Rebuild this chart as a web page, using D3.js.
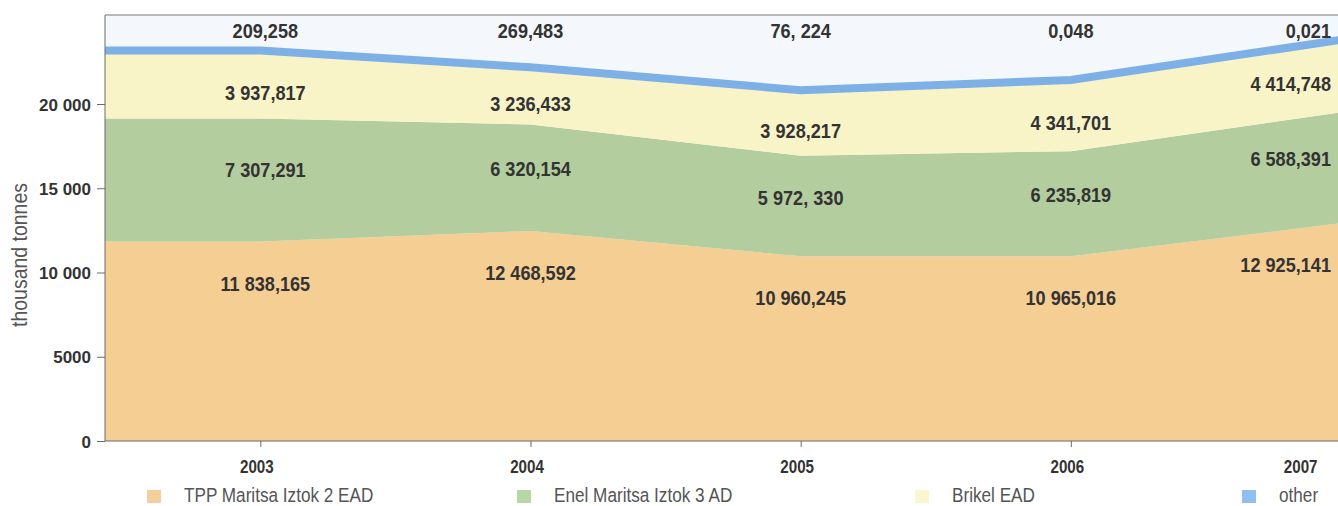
<!DOCTYPE html>
<html><head><meta charset="utf-8">
<script src="https://cdn.jsdelivr.net/npm/d3@7"></script>
<style>
html,body{margin:0;padding:0;background:#fff;}
svg{display:block;}
</style></head>
<body>
<svg id="chart" width="1338" height="506"></svg>
<script>
// ---- data ----
const years = [2003, 2004, 2005, 2006, 2007];
const tpp    = [11838.165, 12468.592, 10960.245, 10965.016, 12925.141];
const enel   = [7307.291, 6320.154, 5972.330, 6235.819, 6588.391];
const brikel = [3937.817, 3236.433, 3928.217, 4341.701, 4414.748];
const other  = [209.258, 269.483, 76.224, 0.048, 0.021];
const tppLabels    = ["11 838,165", "12 468,592", "10 960,245", "10 965,016", "12 925,141"];
const enelLabels   = ["7 307,291", "6 320,154", "5 972, 330", "6 235,819", "6 588,391"];
const brikelLabels = ["3 937,817", "3 236,433", "3 928,217", "4 341,701", "4 414,748"];
const otherLabels  = ["209,258", "269,483", "76, 224", "0,048", "0,021"];
const seriesNames = ["TPP Maritsa Iztok 2 EAD", "Enel Maritsa Iztok 3 AD", "Brikel EAD", "other"];
const yTicks = [0, 5000, 10000, 15000, 20000];
const yTickLabels = ["0", "5000", "10 000", "15 000", "20 000"];
const yTitle = "thousand tonnes";

// ---- layout ----
const svg = d3.select("#chart");
const W = 1338, H = 506;
const padL = 105, baseY = 441, topY = 15;
const FONT = "'Liberation Sans', Arial, sans-serif";
const colors = ["#F5CE93", "#B3CD9E", "#F8F4C8", "#7DB0E6"];
const legendColors = ["#F3D09A", "#B8D7A6", "#FAF6CF", "#8FC0EE"];

const x = d3.scaleLinear().domain([2002.425, 2007]).range([padL, 1341]);
const y = d3.scaleLinear().domain([0, 25282]).range([baseY, topY]);

const table = years.map((yr, i) => ({year: yr, tpp: tpp[i], enel: enel[i], brikel: brikel[i], other: other[i]}));
const keys = ["tpp", "enel", "brikel", "other"];
const stack = d3.stack().keys(keys)(table);

// condensed text helper
function ntext(g, tx, ty, str, opt) {
  const o = Object.assign({size: 20, weight: "normal", anchor: "start", sx: 0.86, rot: 0, fill: "#333", dy: null}, opt || {});
  const t = g.append("text")
    .attr("transform", `translate(${tx},${ty}) rotate(${o.rot}) scale(${o.sx},1)`)
    .attr("text-anchor", o.anchor).attr("font-family", FONT).attr("font-weight", o.weight)
    .attr("font-size", o.size).attr("fill", o.fill).text(str);
  if (o.dy) t.attr("dy", o.dy);
  return t;
}

// plot background
svg.append("rect").attr("x", padL).attr("y", topY).attr("width", W - padL).attr("height", baseY - topY)
  .attr("fill", "#F4F7FB");

// points: start of plot uses the first year's values (flat extension)
const pts = [{xv: x.domain()[0], i: 0}].concat(years.map((yr, i) => ({xv: yr, i})));

const area = (layer) => d3.area()
  .x(p => x(p.xv))
  .y0(p => y(layer[p.i][0]))
  .y1(p => y(layer[p.i][1]))(pts);

stack.forEach((layer, k) => {
  svg.append("path").attr("d", area(layer)).attr("fill", colors[k]);
});
// "other" band as thick line at top
const topLayer = stack[3];
svg.append("path")
  .attr("d", d3.line().x(p => x(p.xv)).y(p => y(topLayer[p.i][1]) + 2)(pts))
  .attr("fill", "none").attr("stroke", colors[3]).attr("stroke-width", 8);

// axes
const yAxis = d3.axisLeft(y).tickValues(yTicks).tickFormat((d, i) => yTickLabels[i]).tickSize(8).tickPadding(6);
const gy = svg.append("g").attr("transform", `translate(${padL},0)`).call(yAxis);
gy.select(".domain").attr("d", `M0,${topY}V${baseY}`).attr("stroke", "#6b6b6b");
gy.selectAll(".tick line").attr("stroke", "#6b6b6b");
gy.selectAll(".tick text").attr("font-family", FONT).attr("font-weight", "bold")
  .attr("font-size", 17).attr("fill", "#333").attr("dy", "0.36em");

const xAxis = d3.axisBottom(x).tickValues(years).tickFormat(d3.format("d")).tickSize(6).tickPadding(13);
const gx = svg.append("g").attr("transform", `translate(0,${baseY})`).call(xAxis);
gx.select(".domain").attr("d", `M${padL},0H${W}`).attr("stroke", "#6b6b6b");
gx.selectAll(".tick line").attr("stroke", "#6b6b6b");
gx.selectAll(".tick text").attr("font-family", FONT).attr("font-weight", "bold")
  .attr("font-size", 18.5).attr("fill", "#333")
  .attr("text-anchor", (d, i) => i === years.length - 1 ? "end" : "middle")
  .attr("x", (d, i) => i === years.length - 1 ? (1317 - x(d)) / 0.82 : -4 / 0.82)
  .attr("transform", "scale(0.82,1)");

// top frame line
svg.append("line").attr("x1", padL).attr("x2", W).attr("y1", topY).attr("y2", topY)
  .attr("stroke", "#777").attr("stroke-width", 1.2);

// y title
ntext(svg, 27, 255, yTitle, {size: 22, rot: -90, anchor: "middle", sx: 0.885, fill: "#555"});

// value labels
const labelX = (i) => i === years.length - 1 ? 1331 : x(years[i]) + (i === 0 ? 5 : 0);
const anchor = (i) => i === years.length - 1 ? "end" : "middle";
function addLabels(texts, yFn) {
  texts.forEach((t, i) => {
    ntext(svg, labelX(i), yFn(i), t, {size: 19.5, weight: "bold", anchor: anchor(i), sx: 0.93, dy: "0.36em"});
  });
}
const frac = (layer, i, f) => y(layer[i][1]) + f * (y(layer[i][0]) - y(layer[i][1]));
addLabels(otherLabels, i => 31);
addLabels(brikelLabels, i => frac(stack[2], i, 0.62));
addLabels(enelLabels, i => frac(stack[1], i, 0.42));
addLabels(tppLabels, i => y(stack[0][i][1]) + 42);

// legend
const legendX = [147, 517, 915, 1242];
seriesNames.forEach((name, k) => {
  svg.append("rect").attr("x", legendX[k]).attr("y", 490).attr("width", 14).attr("height", 13)
    .attr("fill", legendColors[k]);
  ntext(svg, legendX[k] + 37, 502, name, {size: 19.5, sx: 0.88, fill: "#555"});
});
</script>
</body></html>
